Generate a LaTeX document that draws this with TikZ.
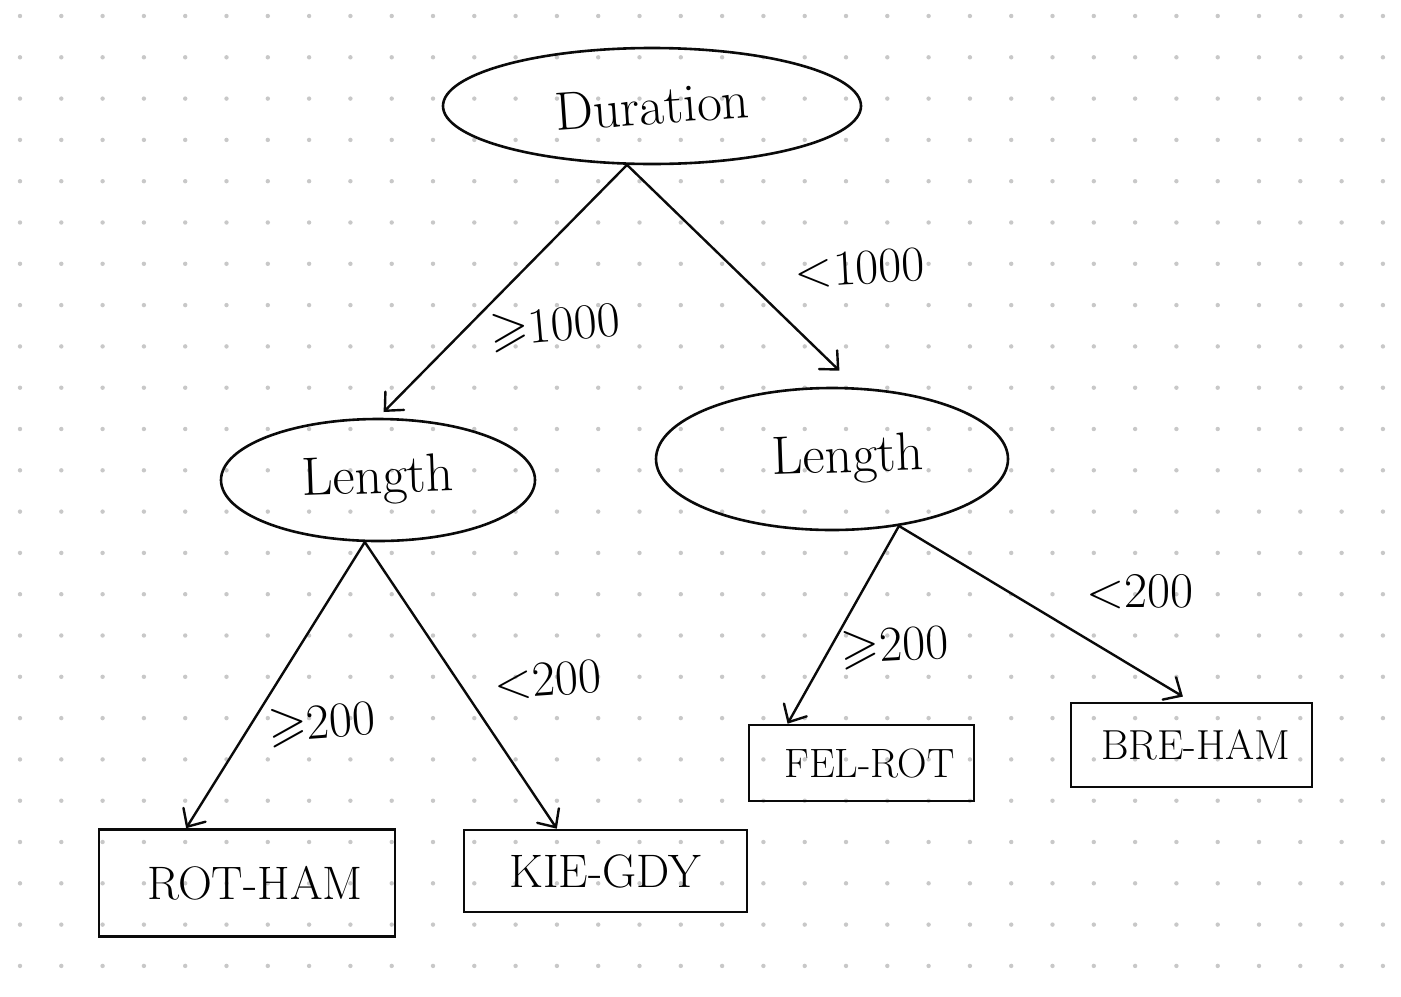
\documentclass[tikz,border=0pt]{standalone}
\usepackage{fontspec}
\usepackage{amssymb}
\usetikzlibrary{arrows.meta,shapes.geometric}
\begin{document}
\begin{tikzpicture}[x=0.5pt,y=-0.5pt,
  split/.style={draw=inkline,line width=1.3pt,ellipse,inner sep=0pt,
    font=\fontsize{27}{31}\selectfont},
  leaf/.style={draw=inkline,line width=1.3pt,rectangle,inner sep=0pt,
    font=\fontsize{23.5}{27}\selectfont},
  smallleaf/.style={leaf,font=\fontsize{21}{25}\selectfont},
  branch/.style={draw=inkline,line width=1.2pt,line cap=round,
    -{Straight Barb[length=7pt,width=13pt,line cap=round]}},
  cond/.style={font=\fontsize{25}{29}\selectfont,inner sep=0pt}]
  \definecolor{inkline}{RGB}{10,10,10}
  \definecolor{griddot}{RGB}{200,200,200}
  \useasboundingbox (0,0) rectangle (1401,996);
  \fill[white] (0,0) rectangle (1401,996);
  % dotted paper
  \foreach \i in {0,...,33}
    \foreach \j in {0,...,23}
      \fill[griddot] (20+41.3*\i,16+41.3*\j) circle (1.1pt);
  % splits
  \node[split,minimum width=209pt,minimum height=58pt] (dur) at (652,106) {\rotatebox{4}{Duration}};
  \node[split,minimum width=157pt,minimum height=61pt] (lenL) at (378,480) {\rotatebox{2}{Length}};
  \node[split,minimum width=176pt,minimum height=71pt] (lenR) at (832,459) {\hspace{16pt}\rotatebox{2}{Length}};
  % leaves
  \node[leaf,minimum width=148pt,minimum height=53.5pt] (rotham) at (247,883) {\hspace{8pt}ROT-HAM};
  \node[leaf,minimum width=141.5pt,minimum height=41pt] (kiegdy) at (605.5,871) {KIE-GDY};
  \node[smallleaf,font=\fontsize{20.5}{24}\selectfont,minimum width=112.5pt,minimum height=38pt] (felrot) at (861.5,763) {\hspace{8pt}FEL-ROT};
  \node[smallleaf,minimum width=120.5pt,minimum height=42pt] (breham) at (1191.5,745) {\hspace{4pt}BRE-HAM};
  % branches
  \draw[branch,shorten >=4pt] (dur.247) -- (lenL.north);
  \draw[branch,shorten >=12pt] (dur.247) -- (lenR.71);
  \draw[branch] (lenL.258) -- (rotham.138);
  \draw[branch] (lenL.258) -- (kiegdy.139);
  \draw[branch] (lenR.315) -- (felrot.152);
  \draw[branch,shorten >=5pt] (lenR.315) -- (breham.north);
  % conditions
  \node[cond,rotate=5] (c1) at (555,328) {$\geqslant$1000};
  \node[cond,rotate=3] (c2) at (860,268) {<1000};
  \node[cond,rotate=4] (c3) at (322,725) {$\geqslant$200};
  \node[cond,rotate=4] (c4) at (548,680) {<200};
  \node[cond,rotate=3] (c5) at (895,648) {$\geqslant$200};
  \node[cond] (c6) at (1140,592) {<200};
\end{tikzpicture}
\end{document}
